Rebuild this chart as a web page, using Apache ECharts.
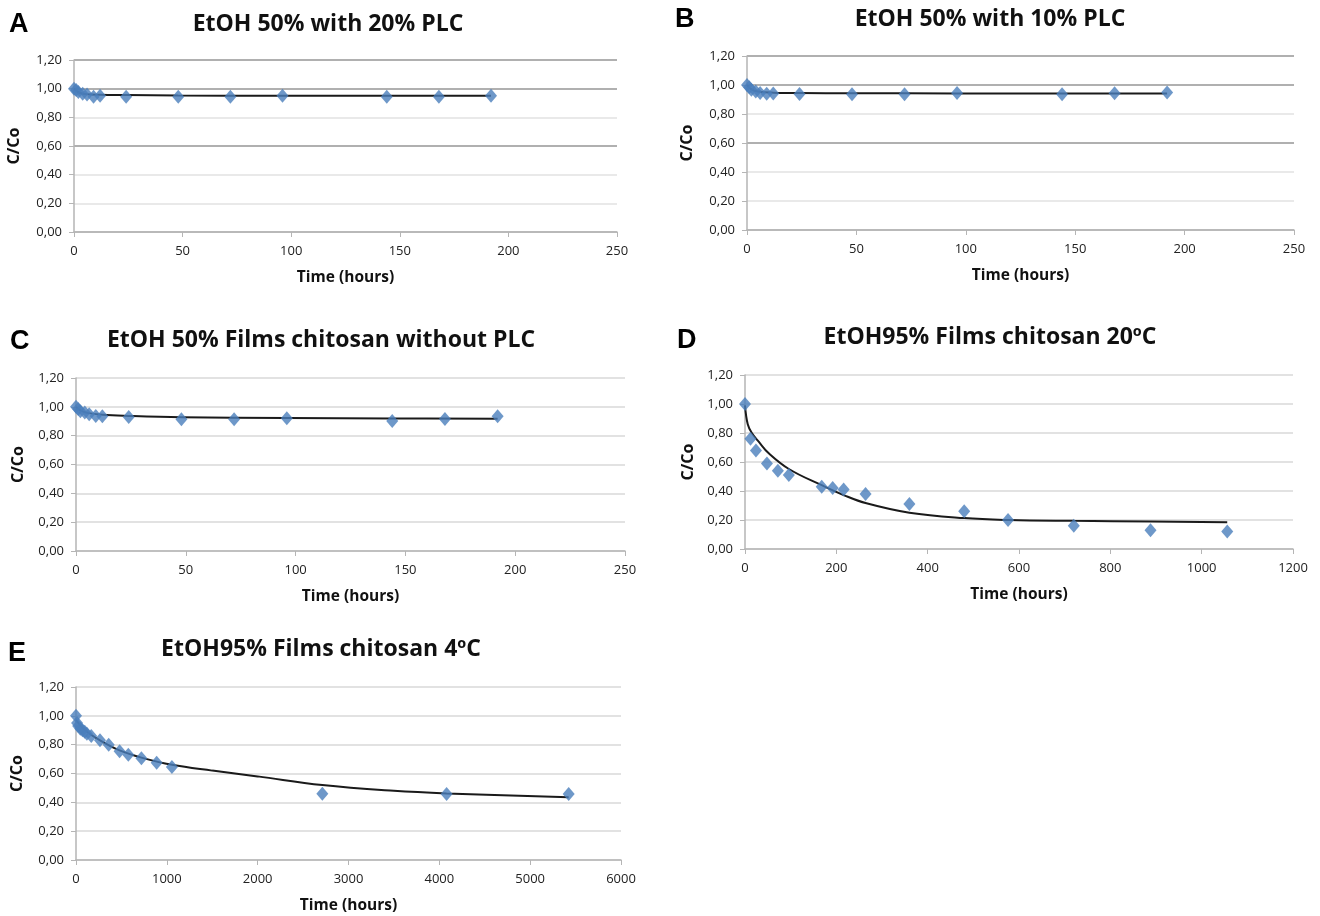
<!DOCTYPE html>
<html>
<head>
<meta charset="utf-8">
<script src="https://cdn.jsdelivr.net/npm/echarts@6/dist/echarts.min.js"></script>
<style>
  html, body { margin: 0; padding: 0; background: #fff; }
  #main { width: 1320px; height: 916px; }
</style>
</head>
<body>
<div id="main"></div>
<script>
// panel A - EtOH 50% with 20% PLC
const timeA = [0, 1, 2, 4, 6, 9, 12, 24, 48, 72, 96, 144, 168, 192];
const ratioA = [1.00, 0.99, 0.977, 0.965, 0.96, 0.944, 0.951, 0.944, 0.944, 0.944, 0.951, 0.944, 0.944, 0.951];
const fitTimeA = [0, 2, 5, 12, 24, 48, 96, 144, 192];
const fitRatioA = [1.00, 0.975, 0.962, 0.957, 0.955, 0.952, 0.950, 0.950, 0.950];

// panel B - EtOH 50% with 10% PLC
const timeB = [0, 1, 2, 4, 6, 9, 12, 24, 48, 72, 96, 144, 168, 192];
const ratioB = [1.00, 0.985, 0.967, 0.955, 0.945, 0.94, 0.942, 0.938, 0.936, 0.936, 0.945, 0.936, 0.943, 0.949];
const fitTimeB = [0, 2, 5, 12, 24, 48, 96, 144, 192];
const fitRatioB = [1.00, 0.97, 0.955, 0.947, 0.944, 0.943, 0.942, 0.942, 0.942];

// panel C - EtOH 50% Films chitosan without PLC
const timeC = [0, 1, 2, 4, 6, 9, 12, 24, 48, 72, 96, 144, 168, 192];
const ratioC = [1.00, 0.985, 0.97, 0.96, 0.948, 0.937, 0.934, 0.93, 0.914, 0.914, 0.92, 0.902, 0.916, 0.934];
const fitTimeC = [0, 2, 5, 12, 24, 48, 96, 144, 192];
const fitRatioC = [1.00, 0.975, 0.958, 0.945, 0.937, 0.928, 0.922, 0.919, 0.918];

// panel D - EtOH95% Films chitosan 20ºC
const timeD = [0, 12, 24, 48, 72, 96, 168, 192, 216, 264, 360, 480, 576, 720, 888, 1056];
const ratioD = [1.00, 0.76, 0.68, 0.59, 0.54, 0.51, 0.43, 0.42, 0.41, 0.38, 0.31, 0.26, 0.20, 0.16, 0.13, 0.12];
const fitTimeD = [0, 6, 15, 30, 52, 97, 168, 216, 266, 360, 480, 577, 720, 888, 1056];
const fitRatioD = [0.99, 0.86, 0.80, 0.74, 0.66, 0.55, 0.44, 0.372, 0.315, 0.25, 0.213, 0.20, 0.194, 0.19, 0.185];

// panel E - EtOH95% Films chitosan 4ºC
const timeE = [0, 12, 24, 48, 72, 96, 120, 168, 264, 360, 480, 576, 720, 888, 1056, 2712, 4080, 5424];
const ratioE = [1.00, 0.95, 0.93, 0.91, 0.90, 0.89, 0.875, 0.86, 0.83, 0.80, 0.755, 0.73, 0.705, 0.675, 0.645, 0.46, 0.457, 0.457];
const fitTimeE = [0, 100, 264, 480, 720, 1056, 1500, 2000, 2712, 3500, 4080, 5424];
const fitRatioE = [0.97, 0.90, 0.83, 0.76, 0.71, 0.66, 0.62, 0.58, 0.52, 0.48, 0.462, 0.435];

const titles = ['EtOH 50% with 20% PLC', 'EtOH 50% with 10% PLC', 'EtOH 50% Films chitosan without PLC',
  'EtOH95% Films chitosan 20ºC', 'EtOH95% Films chitosan 4ºC'];
const letters = ['A', 'B', 'C', 'D', 'E'];

const pairs = (xs, ys) => xs.map((x, i) => [x, ys[i]]);
const panels = [
  { pts: pairs(timeA, ratioA), fit: pairs(fitTimeA, fitRatioA), xMax: 250, xStep: 50 },
  { pts: pairs(timeB, ratioB), fit: pairs(fitTimeB, fitRatioB), xMax: 250, xStep: 50 },
  { pts: pairs(timeC, ratioC), fit: pairs(fitTimeC, fitRatioC), xMax: 250, xStep: 50 },
  { pts: pairs(timeD, ratioD), fit: pairs(fitTimeD, fitRatioD), xMax: 1200, xStep: 200 },
  { pts: pairs(timeE, ratioE), fit: pairs(fitTimeE, fitRatioE), xMax: 6000, xStep: 1000 }
];

// plot rectangles, pixels
const boxes = [
  { left: 74, top: 60, width: 543, height: 172 },
  { left: 747, top: 56, width: 547, height: 174 },
  { left: 76, top: 378, width: 549, height: 173 },
  { left: 745, top: 375, width: 548, height: 174 },
  { left: 76, top: 687, width: 545, height: 173 }
];
const titlePos = [[328, 13], [990, 8], [321, 329], [990, 326], [321, 638]];
const letterPos = [[9, 11], [675, 6], [10, 328], [677, 327], [8, 640]];
const yNameGap = [52, 52, 50, 49, 51];

// A and B have a few darker rules in the scan
const darkGrid = ['#b0b0b0', '#e2e2e2', '#e2e2e2', '#969696', '#e2e2e2', '#969696', '#969696'];
const lightGrid = ['#d9d9d9'];

const font = 'Open Sans';
const fmt = v => v.toFixed(2).replace('.', ',');

const option = {
  backgroundColor: '#fff',
  animation: false,
  title: [],
  grid: [],
  xAxis: [],
  yAxis: [],
  series: []
};

panels.forEach((p, i) => {
  option.title.push({
    text: titles[i], left: titlePos[i][0], top: titlePos[i][1], textAlign: 'center', padding: 0,
    textStyle: { fontFamily: font, fontWeight: 'bold', fontSize: 23, color: '#111' }
  });
  option.title.push({
    text: letters[i], left: letterPos[i][0], top: letterPos[i][1], padding: 0,
    textStyle: { fontFamily: 'Liberation Sans', fontWeight: 'bold', fontSize: 27, color: '#000' }
  });
  option.grid.push(Object.assign({ containLabel: false }, boxes[i]));
  option.xAxis.push({
    type: 'value', gridIndex: i, min: 0, max: p.xMax, interval: p.xStep,
    name: 'Time (hours)', nameLocation: 'middle', nameGap: 38,
    nameTextStyle: { fontFamily: font, fontWeight: 'bold', fontSize: 15.5, color: '#111' },
    axisLine: { show: true, lineStyle: { color: '#b5b5b5', width: 1.5 } },
    axisTick: { show: true, length: 5, lineStyle: { color: '#b5b5b5' } },
    axisLabel: { fontFamily: font, fontSize: 13, color: '#222', margin: 13, formatter: v => String(v) },
    splitLine: { show: false }
  });
  option.yAxis.push({
    type: 'value', gridIndex: i, min: 0, max: 1.2, interval: 0.2,
    name: 'C/Co', nameLocation: 'middle', nameGap: yNameGap[i], nameRotate: 90,
    nameTextStyle: { fontFamily: font, fontWeight: 'bold', fontSize: 16, color: '#111' },
    axisLine: { show: true, lineStyle: { color: '#b5b5b5', width: 1.5 } },
    axisTick: { show: true, length: 5, lineStyle: { color: '#b5b5b5' } },
    axisLabel: { fontFamily: font, fontSize: 13, color: '#222', margin: 12, formatter: fmt },
    splitLine: { show: true, lineStyle: { color: i < 2 ? darkGrid : lightGrid, width: 1.5 } }
  });
  option.series.push({
    type: 'line', xAxisIndex: i, yAxisIndex: i, data: p.fit, smooth: 0.4,
    showSymbol: false, lineStyle: { color: '#1a1a1a', width: 2 }, z: 2
  });
  option.series.push({
    type: 'scatter', xAxisIndex: i, yAxisIndex: i, data: p.pts,
    symbol: 'diamond', symbolSize: [12, 14],
    itemStyle: { color: '#4a7ebb' }, z: 3
  });
});

const chart = echarts.init(document.getElementById('main'), null, { renderer: 'canvas' });
chart.setOption(option);
</script>
</body>
</html>
